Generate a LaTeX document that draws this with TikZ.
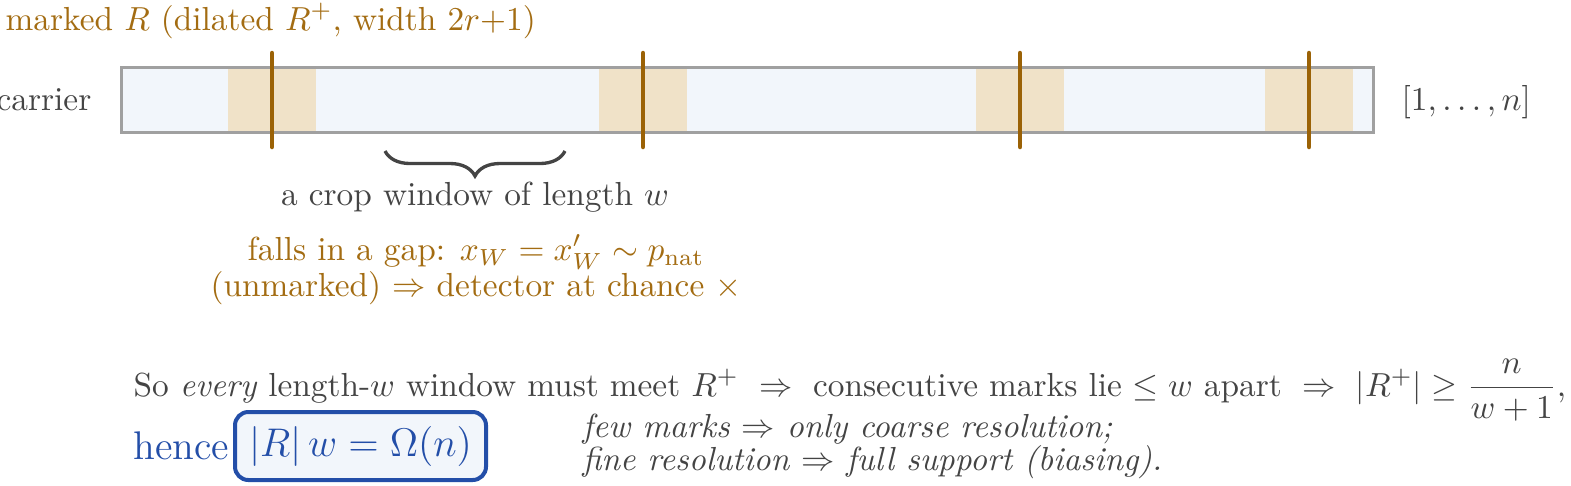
\documentclass[tikz,border=0pt]{standalone}
\usepackage{amsmath}
\usetikzlibrary{decorations.pathreplacing}
\definecolor{txtgray}{RGB}{68,68,68}
\definecolor{txtbrown}{RGB}{163,108,18}
\definecolor{markline}{RGB}{155,98,6}
\definecolor{tanfill}{RGB}{240,226,200}
\definecolor{carfill}{RGB}{242,246,251}
\definecolor{bordergray}{RGB}{160,160,160}
\definecolor{resblue}{RGB}{35,78,168}
\begin{document}
\begin{tikzpicture}[x=0.3pt,y=-0.3pt,
  lbl/.style={inner sep=0pt},
  marktick/.style={draw=markline,line width=1.35pt,line cap=round},
  tanbox/.style={fill=tanfill},
  hencebox/.style={draw=resblue,fill=carfill,line width=1.2pt,rounded corners=4pt,
    minimum width=75.3pt,minimum height=20.4pt,text=resblue,inner sep=0pt}]
\useasboundingbox (0,0) rectangle (1571,485);
% carrier
\draw[bordergray,line width=0.9pt,fill=carfill] (121,67) rectangle (1373,132);
\foreach \c in {272,643,1020,1309}{
  \fill[tanbox] (\c-44,68.5) rectangle (\c+44,130.5);
}
\foreach \c in {272,643,1020,1309}{
  \draw[marktick] (\c,53) -- (\c,147);
}
% labels
\node[lbl,txtbrown,anchor=base west] (title) at (5,30) {marked $R$ (dilated $R^{+}$, width $2r{+}1$)};
\node[lbl,txtgray,anchor=base east] (carlab) at (92,110) {carrier};
\node[lbl,txtgray,anchor=base west] (range) at (1401,110) {$[1,\ldots,n]$};
% brace
\coordinate (bl) at (385,151);
\coordinate (br) at (565,151);
\draw[txtgray,line width=1pt,decorate,decoration={brace,mirror,amplitude=7.5pt}] (bl) -- (br);
\node[lbl,txtgray,anchor=base] (crop) at (475,205) {a crop window of length $w$};
\node[lbl,txtbrown,anchor=base] (gap1) at (476,260) {falls in a gap: $x_W = x'_W \sim p_{\mathrm{nat}}$};
\node[lbl,txtbrown,anchor=base] (gap2) at (476,296) {(unmarked) $\Rightarrow$ detector at chance $\times$};
% conclusion
\node[lbl,txtgray,anchor=base west] (so) at (133,396) {So \emph{every} length-$w$ window must meet $R^{+}$ $\;\Rightarrow\;$ consecutive marks lie $\le w$ apart $\;\Rightarrow\;$ $|R^{+}| \ge \dfrac{n}{w+1}$,};
\node[hencebox] (res) at (360.5,446) {\large $|R|\,w=\Omega(n)$};
\node[lbl,text=resblue,font=\large,anchor=east] (hence) at ([xshift=-1pt]res.west) {hence};
\node[lbl,txtgray,anchor=base west,font=\itshape] (few) at (582,437) {few marks $\Rightarrow$ only coarse resolution;};
\node[lbl,txtgray,anchor=base west,font=\itshape] (fine) at (582,470) {fine resolution $\Rightarrow$ full support (biasing).};
\end{tikzpicture}
\end{document}
